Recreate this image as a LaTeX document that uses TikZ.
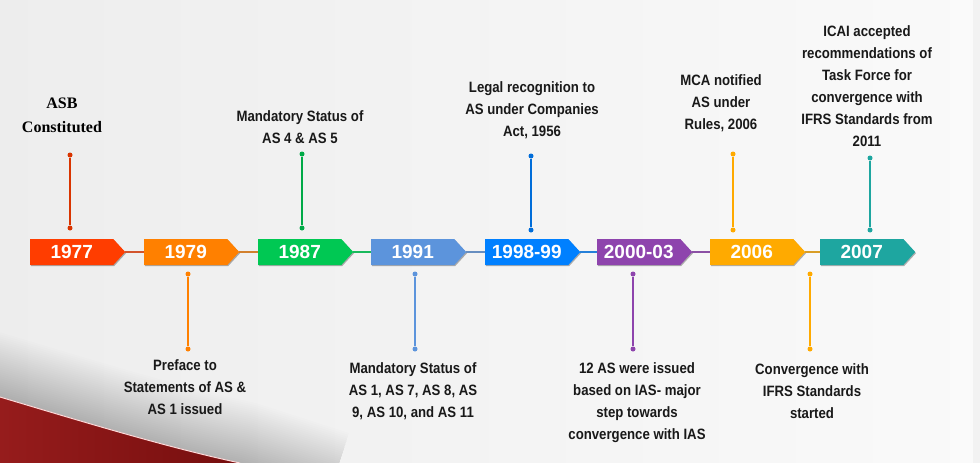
\documentclass[tikz,border=0pt]{standalone}
\usepackage{fontspec}
\setmainfont{Liberation Sans}
\newfontfamily\notefont{Liberation Sans Bold}[FakeStretch=0.88]
\newfontfamily\asbfont{Liberation Serif}
\usetikzlibrary{shapes.symbols, shadows, positioning}
\definecolor{yrred}{RGB}{255,61,0}
\definecolor{yrorange}{RGB}{255,128,0}
\definecolor{yrgreen}{RGB}{0,200,83}
\definecolor{yrsky}{RGB}{92,148,220}
\definecolor{yrblue}{RGB}{0,128,255}
\definecolor{yrpurple}{RGB}{142,68,173}
\definecolor{yramber}{RGB}{255,170,0}
\definecolor{yrteal}{RGB}{30,166,160}
\definecolor{swooshL}{RGB}{150,28,28}
\definecolor{swooshR}{RGB}{118,14,14}

\begin{document}
\begin{tikzpicture}[
        x=1pt, y=-1pt,
        year/.style={signal, signal to=east, signal pointer angle=95, anchor=west,
            minimum height=26pt, minimum width=95pt, inner sep=0pt, text=white,
            font=\fontsize{19}{19}\selectfont\bfseries,
            drop shadow={shadow xshift=0.8pt, shadow yshift=-1.2pt, opacity=0.3, fill=black}},
        link/.style={line width=2pt},
        pin/.style={line width=2pt},
        dot/.style={circle, fill, inner sep=0pt, minimum size=5pt},
        note/.style={anchor=north, inner sep=0pt, align=center, text=black!90,
            font=\notefont\fontsize{15}{22}\selectfont}
    ]
        \useasboundingbox (0,0) rectangle (980,463);
        % background
        \fill[left color=black!7, middle color=black!1, right color=black!2] (0,0) rectangle (980,463);
        \fill[black!5] (973,0) rectangle (980,463);
        \begin{scope}
            \clip (0,0) rectangle (980,463);
            % soft shade above the swoosh
            \foreach \w in {4,8,...,124} {
                \draw[black, opacity=0.008, line width=\w pt, line join=round]
                    (-80,373) -- (0,397) .. controls (90,424) and (170,448) .. (240,463) -- (330,492);
            }
            \fill[left color=swooshL, right color=swooshR] (0,397) .. controls (90,424) and (170,448) .. (240,463)
                -- (0,463) -- cycle;
            \draw[red!15!white, line width=1pt] (0,397) .. controls (90,424) and (170,448) .. (240,463);
        \end{scope}

        % year boxes
        \node[year, fill=yrred] (y1977) at (30,252) {1977};
        \node[year, fill=yrorange] (y1979) at (144,252) {1979};
        \node[year, fill=yrgreen] (y1987) at (258,252) {1987};
        \node[year, fill=yrsky] (y1991) at (371,252) {1991};
        \node[year, fill=yrblue] (y1998) at (485,252) {1998-99};
        \node[year, fill=yrpurple] (y2000) at (597,252) {2000-03};
        \node[year, fill=yramber] (y2006) at (710,252) {2006};
        \node[year, fill=yrteal] (y2007) at (820,252) {2007};

        % links between years
        \draw[link, yrred!65!gray] (y1977.east) -- (y1979.west);
        \draw[link, yrorange!65!gray] (y1979.east) -- (y1987.west);
        \draw[link, yrgreen!80!gray] (y1987.east) -- (y1991.west);
        \draw[link, yrsky!70!gray] (y1991.east) -- (y1998.west);
        \draw[link, yrblue!70!gray] (y1998.east) -- (y2000.west);
        \draw[link, yrpurple!80!gray] (y2000.east) -- (y2006.west);
        \draw[link, yramber!70!gray] (y2006.east) -- (y2007.west);

        % 1977
        \node[dot, yrred!85!black] (p1977a) at (70,155) {};
        \node[dot, yrred!85!black] (p1977b) at (70,228) {};
        \draw[pin, yrred!85!black] (p1977a) -- (p1977b);
        \node[anchor=north, inner sep=0pt, align=center, font=\asbfont\fontsize{16}{24}\selectfont\bfseries]
            (n1977) at (62,98) {ASB\\Constituted};

        % 1979
        \node[dot, yrorange] (p1979a) at (188,274) {};
        \node[dot, yrorange] (p1979b) at (188,349) {};
        \draw[pin, yrorange] (p1979a) -- (p1979b);
        \node[note] (n1979) at (185,359) {Preface to\\Statements of AS \&\\AS 1 issued};

        % 1987
        \node[dot, yrgreen!85!black] (p1987a) at (302,154) {};
        \node[dot, yrgreen!85!black] (p1987b) at (302,228) {};
        \draw[pin, yrgreen!85!black] (p1987a) -- (p1987b);
        \node[note] (n1987) at (300,110) {Mandatory Status of\\AS 4 \& AS 5};

        % 1991
        \node[dot, yrsky] (p1991a) at (415,274) {};
        \node[dot, yrsky] (p1991b) at (415,349) {};
        \draw[pin, yrsky] (p1991a) -- (p1991b);
        \node[note] (n1991) at (413,362) {Mandatory Status of\\AS 1, AS 7, AS 8, AS\\9, AS 10, and AS 11};

        % 1998-99
        \node[dot, yrblue!85!black] (p1998a) at (531,156) {};
        \node[dot, yrblue!85!black] (p1998b) at (531,230) {};
        \draw[pin, yrblue!85!black] (p1998a) -- (p1998b);
        \node[note] (n1998) at (532,81) {Legal recognition to\\AS under Companies\\Act, 1956};

        % 2000-03
        \node[dot, yrpurple] (p2000a) at (633,274) {};
        \node[dot, yrpurple] (p2000b) at (633,349) {};
        \draw[pin, yrpurple] (p2000a) -- (p2000b);
        \node[note] (n2000) at (637,362) {12 AS were issued\\based on IAS- major\\step towards\\convergence with IAS};

        % 2006
        \node[dot, yramber] (p2006a) at (733,154) {};
        \node[dot, yramber] (p2006b) at (733,230) {};
        \draw[pin, yramber] (p2006a) -- (p2006b);
        \node[note] (n2006) at (721,74) {MCA notified\\AS under\\Rules, 2006};
        \node[dot, yramber] (p2006c) at (810,274) {};
        \node[dot, yramber] (p2006d) at (810,349) {};
        \draw[pin, yramber] (p2006c) -- (p2006d);
        \node[note] (n2006b) at (812,363) {Convergence with\\IFRS Standards\\started};

        % 2007
        \node[dot, yrteal] (p2007a) at (870,158) {};
        \node[dot, yrteal] (p2007b) at (870,230) {};
        \draw[pin, yrteal] (p2007a) -- (p2007b);
        \node[note] (n2007) at (867,25) {ICAI accepted\\recommendations of\\Task Force for\\convergence with\\IFRS Standards from\\2011};

    \end{tikzpicture}
\end{document}
